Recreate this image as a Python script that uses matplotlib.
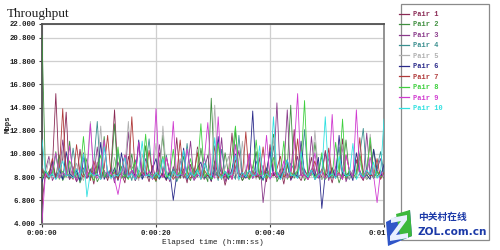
import numpy as np
import matplotlib
matplotlib.use("Agg")
import matplotlib.pyplot as plt
from matplotlib.patches import Rectangle, Polygon
from matplotlib.ticker import FixedLocator, FixedFormatter

# ---------------- data ----------------
series_names = ["Pair 1", "Pair 2", "Pair 3", "Pair 4", "Pair 5",
                "Pair 6", "Pair 7", "Pair 8", "Pair 9", "Pair 10"]
series_colors = ["#8a2a55", "#3f8f3f", "#8a3a8a", "#3a8f8f", "#b0b0b0",
                 "#2a2a8a", "#b03a3a", "#3fd03f", "#d03ad0", "#30e0e0"]

pair1 = [6.5, 9.2, 8.7, 9.6, 16.0, 8.9, 10.4, 14.4, 8.6, 9.3, 8.4, 11.2, 9.0, 8.7, 9.5, 8.2, 10.1, 8.8, 9.4, 8.5,
         9.7, 14.6, 8.9, 9.1, 8.3, 10.6, 9.2, 8.7, 11.8, 8.9, 9.3, 8.4, 9.8, 8.6, 10.9, 9.1, 8.5, 9.4, 8.8, 12.2,
         8.7, 9.5, 8.3, 9.9, 8.8, 11.4, 9.0, 8.6, 9.3, 8.4, 10.2, 8.9, 9.6, 8.1, 9.2, 12.6, 8.8, 9.4, 8.5, 9.0,
         10.8, 8.7, 9.3, 8.6, 9.8, 8.4, 11.6, 9.1, 8.7, 9.5, 8.2, 9.9, 8.8, 12.9, 9.0, 8.5, 9.4, 8.9, 10.5, 8.6,
         9.2, 8.8, 11.1, 9.4, 8.3, 9.7, 8.9, 12.1, 8.6, 9.3, 8.8, 10.3, 9.0, 8.5, 9.6, 11.7, 8.7, 9.2, 8.9, 9.1]
pair2 = [21.0, 9.0, 8.6, 9.4, 8.8, 10.7, 8.5, 9.2, 11.9, 8.7, 9.5, 8.3, 9.1, 10.4, 8.8, 9.6, 8.4, 9.0, 12.3, 8.9,
         9.3, 13.4, 8.6, 9.7, 8.8, 9.2, 10.8, 8.5, 9.4, 8.9, 11.5, 8.7, 9.1, 8.4, 9.8, 12.4, 8.6, 9.3, 8.9, 9.5,
         8.7, 10.6, 9.0, 8.5, 9.6, 8.8, 11.3, 9.2, 8.4, 15.6, 8.9, 9.4, 8.6, 10.9, 9.0, 8.7, 12.8, 9.3, 8.5, 9.1,
         8.8, 9.7, 11.0, 8.6, 9.2, 8.9, 9.5, 12.5, 8.4, 9.0, 8.8, 9.6, 15.0, 8.7, 9.3, 10.2, 8.5, 9.1, 8.9, 11.8,
         9.4, 8.6, 9.0, 10.5, 8.8, 9.5, 8.3, 9.2, 12.0, 8.9, 9.1, 8.7, 10.8, 9.3, 8.6, 9.0, 11.2, 8.8, 9.4, 8.7]
pair3 = [8.9, 9.4, 10.6, 8.5, 9.1, 8.8, 12.0, 9.3, 8.6, 9.7, 8.4, 9.0, 10.9, 8.7, 9.5, 8.9, 11.4, 8.6, 9.2, 8.8,
         9.6, 8.3, 10.1, 9.0, 8.7, 12.7, 9.3, 8.5, 9.1, 8.9, 10.4, 9.4, 8.6, 9.0, 11.6, 8.8, 9.3, 8.4, 9.7, 8.9,
         10.3, 8.7, 9.2, 11.9, 8.5, 9.0, 8.8, 9.5, 10.7, 8.6, 9.1, 8.9, 12.2, 8.4, 9.3, 8.7, 9.6, 11.1, 8.8, 9.0,
         8.6, 9.4, 8.9, 10.5, 6.6, 9.2, 8.7, 9.0, 15.2, 8.8, 9.3, 14.6, 8.5, 9.1, 10.6, 8.9, 9.5, 8.6, 12.3, 9.0,
         8.7, 9.3, 10.9, 8.5, 9.6, 8.8, 9.1, 11.5, 8.4, 9.2, 8.9, 10.2, 9.4, 8.6, 12.6, 9.0, 8.8, 9.5, 10.4, 8.9]
pair4 = [9.8, 8.7, 9.3, 8.9, 10.8, 9.1, 8.6, 9.4, 8.8, 11.3, 9.0, 8.5, 9.6, 8.9, 9.2, 10.1, 13.6, 8.7, 9.3, 8.8,
         9.5, 8.6, 11.0, 9.2, 8.9, 9.4, 8.5, 10.3, 9.1, 8.7, 9.6, 12.1, 8.8, 9.0, 8.6, 9.3, 10.7, 8.9, 9.5, 8.4,
         9.1, 8.8, 11.7, 9.0, 8.6, 9.4, 8.9, 10.5, 9.2, 8.7, 9.6, 8.5, 11.2, 9.0, 8.8, 9.3, 8.6, 12.4, 9.1, 8.9,
         9.4, 8.7, 10.2, 9.0, 8.5, 9.6, 8.8, 11.5, 9.2, 8.6, 9.3, 8.9, 10.0, 9.4, 8.7, 9.1, 12.9, 8.8, 9.5, 8.6,
         9.0, 10.6, 8.9, 9.3, 8.7, 9.5, 11.4, 8.8, 9.1, 8.6, 9.4, 9.0, 10.8, 13.0, 8.9, 9.2, 8.7, 9.6, 11.0, 9.1]
pair5 = [9.1, 8.8, 10.3, 9.4, 8.6, 9.0, 11.1, 8.9, 9.5, 8.7, 10.0, 9.2, 8.5, 9.6, 13.6, 8.8, 9.3, 13.2, 8.9, 9.4,
         8.6, 10.5, 9.1, 8.8, 9.7, 13.6, 8.9, 9.2, 8.5, 10.8, 9.3, 8.7, 9.0, 11.7, 8.8, 13.2, 9.4, 8.6, 9.1, 8.9,
         10.4, 9.2, 8.7, 9.5, 8.9, 11.2, 9.0, 8.6, 9.3, 8.8, 15.0, 9.1, 8.7, 9.6, 10.6, 8.9, 9.2, 8.5, 11.9, 9.0,
         8.8, 9.4, 8.6, 10.9, 9.1, 8.7, 9.5, 12.2, 8.9, 9.2, 8.6, 10.3, 9.0, 8.8, 9.4, 11.3, 8.7, 9.1, 8.9, 12.8,
         9.3, 8.6, 9.0, 10.7, 8.8, 9.5, 8.9, 11.6, 9.2, 8.7, 9.4, 8.9, 10.1, 9.0, 8.6, 12.5, 9.3, 8.8, 9.1, 8.9]
pair6 = [8.4, 9.3, 8.9, 10.2, 8.7, 9.5, 8.6, 11.0, 9.1, 8.8, 9.4, 8.5, 10.6, 9.0, 8.7, 9.2, 8.9, 11.8, 8.6, 9.3,
         8.8, 9.6, 8.5, 10.9, 9.0, 8.7, 9.4, 8.9, 12.0, 8.6, 9.2, 8.8, 9.5, 10.4, 8.7, 9.1, 8.6, 9.3, 6.8, 9.0,
         8.9, 11.3, 8.6, 9.2, 8.8, 9.6, 10.1, 8.7, 9.0, 8.5, 9.4, 12.3, 8.9, 9.1, 8.6, 9.5, 10.8, 8.8, 9.2, 8.7,
         9.3, 14.5, 8.8, 9.0, 8.6, 9.4, 11.0, 8.9, 9.2, 8.7, 9.5, 10.3, 8.6, 9.1, 8.8, 11.9, 9.0, 8.7, 9.4, 8.9,
         10.5, 6.1, 9.1, 8.8, 9.6, 8.7, 12.4, 9.0, 8.9, 9.3, 8.5, 10.9, 9.2, 8.8, 9.0, 8.6, 11.2, 9.4, 8.7, 9.9]
pair7 = [9.5, 8.8, 9.1, 10.4, 8.7, 9.3, 14.7, 8.9, 9.0, 8.6, 11.6, 9.2, 8.8, 9.4, 8.5, 10.2, 9.0, 8.7, 9.6, 12.4,
         8.9, 9.2, 8.6, 9.5, 10.7, 8.8, 14.0, 9.1, 8.7, 9.3, 8.9, 11.1, 9.0, 8.5, 9.4, 8.8, 10.5, 9.2, 8.6, 9.0,
         12.0, 8.8, 9.3, 8.7, 9.1, 10.9, 8.6, 9.4, 8.9, 9.0, 11.5, 8.7, 9.2, 8.8, 9.5, 8.6, 10.3, 9.1, 8.9, 12.7,
         8.7, 9.3, 8.8, 9.0, 11.4, 8.6, 9.2, 8.9, 9.5, 10.6, 8.8, 9.1, 8.7, 9.4, 12.1, 8.9, 9.0, 8.6, 9.3, 10.2,
         8.8, 9.5, 8.7, 11.3, 9.0, 8.9, 9.2, 8.6, 10.7, 9.4, 8.8, 9.1, 12.2, 8.7, 9.3, 8.9, 9.0, 10.4, 8.6, 9.2]
pair8 = [8.7, 9.4, 8.9, 9.1, 11.0, 8.6, 9.3, 8.8, 10.2, 9.5, 8.7, 9.0, 12.3, 8.9, 9.2, 8.5, 9.6, 10.7, 8.8, 9.1,
         8.9, 9.3, 11.4, 8.7, 9.0, 8.6, 9.5, 10.1, 8.8, 9.2, 12.5, 8.9, 9.1, 8.7, 9.4, 10.6, 8.8, 9.0, 11.2, 8.6,
         9.3, 8.9, 9.1, 10.4, 8.7, 9.5, 13.4, 8.8, 9.2, 8.6, 9.0, 11.7, 8.9, 9.3, 8.7, 10.8, 13.2, 9.0, 8.8, 9.4,
         8.6, 9.1, 12.0, 8.9, 9.3, 8.7, 9.5, 10.5, 8.8, 9.0, 11.9, 8.6, 9.2, 8.9, 9.4, 10.1, 15.4, 8.7, 9.1, 8.8,
         9.3, 10.9, 8.6, 9.0, 8.9, 11.8, 9.2, 13.8, 8.7, 9.4, 8.8, 9.1, 10.6, 8.9, 9.0, 12.2, 8.7, 9.3, 8.8, 9.0]
pair9 = [4.9, 9.1, 8.8, 9.5, 10.9, 8.7, 9.2, 8.9, 11.5, 9.0, 8.6, 9.4, 10.3, 8.8, 13.4, 9.1, 8.7, 9.3, 12.0, 8.9,
         9.2, 8.6, 7.3, 9.0, 10.7, 8.8, 9.4, 8.7, 11.8, 9.1, 8.9, 9.3, 8.6, 14.7, 9.0, 8.8, 10.5, 9.2, 13.6, 8.7,
         9.1, 8.9, 11.2, 9.4, 8.6, 9.0, 8.8, 10.4, 13.5, 9.2, 8.7, 14.0, 9.1, 8.9, 9.5, 8.6, 11.6, 9.0, 8.8, 9.3,
         10.8, 8.7, 9.2, 8.9, 9.0, 12.4, 8.6, 9.3, 8.8, 9.1, 10.2, 8.7, 9.4, 11.3, 16.0, 8.9, 9.0, 8.6, 9.2, 10.9,
         8.8, 9.3, 8.7, 9.0, 14.2, 8.9, 9.1, 8.6, 10.7, 9.4, 8.8, 14.6, 9.0, 8.7, 9.2, 10.5, 8.9, 6.6, 9.3, 8.8]
pair10 = [12.0, 9.3, 8.8, 9.1, 8.6, 9.4, 10.2, 8.9, 9.0, 8.7, 9.5, 8.8, 10.8, 7.1, 9.2, 8.9, 9.1, 8.6, 11.4, 9.3,
          8.7, 9.0, 8.9, 9.4, 10.5, 8.8, 9.1, 8.6, 9.3, 11.9, 8.9, 9.0, 8.7, 9.2, 8.8, 10.4, 9.1, 8.6, 9.3, 8.9,
          9.0, 11.1, 8.7, 9.2, 8.9, 9.4, 8.6, 10.0, 9.1, 8.8, 12.2, 9.0, 8.7, 9.3, 8.9, 9.1, 10.7, 8.6, 9.2, 8.8,
          9.4, 8.9, 9.0, 11.5, 8.7, 9.1, 8.8, 14.0, 9.2, 8.6, 9.3, 10.3, 8.9, 9.0, 8.7, 11.0, 9.1, 8.8, 9.4, 8.6,
          9.0, 9.2, 14.0, 8.8, 9.1, 8.7, 10.6, 9.3, 8.9, 9.0, 11.7, 8.6, 9.2, 8.8, 9.4, 9.0, 10.1, 8.7, 9.1, 13.8]

series_values = [pair1, pair2, pair3, pair4, pair5, pair6, pair7, pair8, pair9, pair10]

duration_s = 60
y_ticks = [4.8, 6.8, 8.8, 10.8, 12.8, 14.8, 16.8, 18.8, 20.8, 22.0]
y_tick_labels = ["4.000", "6.800", "8.800", "10.800", "12.800", "14.800",
                 "16.800", "18.800", "20.800", "22.000"]
x_ticks = [0, 20, 40, 60]
x_tick_labels = ["0:00:00", "0:00:20", "0:00:40", "0:01:00"]

# ---------------- figure ----------------
W, H = 500, 250
fig = plt.figure(figsize=(5, 2.5), dpi=100)
fig.patch.set_facecolor("white")

def fx(px):
    return px / W

def fy(py):
    return 1 - py / H

ax_l, ax_r, ax_t, ax_b = 42, 384, 24, 223.5
ax = fig.add_axes([fx(ax_l), fy(ax_b), fx(ax_r - ax_l), (ax_b - ax_t) / H])

mono = "Liberation Mono"
lines = []
for name, col, vals in zip(series_names, series_colors, series_values):
    t = np.linspace(0, duration_s, len(vals))
    ln, = ax.plot(t, vals, color=col, lw=0.6, label=name, zorder=3)
    lines.append(ln)

ax.set_xlim(0, duration_s)
ax.set_ylim(y_ticks[0], y_ticks[-1])
ax.yaxis.set_major_locator(FixedLocator(y_ticks))
ax.yaxis.set_major_formatter(FixedFormatter(y_tick_labels))
ax.xaxis.set_major_locator(FixedLocator(x_ticks))
ax.xaxis.set_major_formatter(FixedFormatter(x_tick_labels))
ax.grid(True, color="#cfcfcf", lw=0.9, zorder=0)
ax.set_axisbelow(True)
ax.tick_params(axis="both", length=2.5, width=0.8, color="#404040",
               labelsize=5.3, pad=2, labelcolor="#202020")
for lab in ax.get_xticklabels() + ax.get_yticklabels():
    lab.set_fontfamily(mono)
    lab.set_fontweight("bold")

for side in ["top", "left"]:
    ax.spines[side].set_color("#505050")
    ax.spines[side].set_linewidth(1.3)
for side in ["bottom", "right"]:
    ax.spines[side].set_color("#8a8a8a")
    ax.spines[side].set_linewidth(1.3)

# title and axis labels
fig.text(fx(7), fy(17), "Throughput", family="Liberation Serif", fontsize=9.5,
         color="#202020", ha="left", va="baseline")
fig.text(fx(8), fy(124), "Mbps", family=mono, fontsize=5.3, fontweight="bold",
         rotation=90, ha="center", va="center", color="#202020")
fig.text(fx((ax_l + ax_r) / 2), fy(242), "Elapsed time (h:mm:ss)", family=mono,
         fontsize=5.6, ha="center", va="center", color="#202020")

# legend box
fig.patches.append(Rectangle((fx(401), fy(240)), fx(88), 236 / H, transform=fig.transFigure,
                             facecolor="white", edgecolor="#8a8a8a", lw=0.9, zorder=1))
leg = fig.legend(handles=lines, loc="upper left", bbox_to_anchor=(fx(399), fy(11)),
                 frameon=False, prop={"family": mono, "size": 5.0, "weight": "bold"},
                 handlelength=1.45, handletextpad=0.55, labelspacing=0.5,
                 borderaxespad=0, borderpad=0, labelcolor="linecolor")
for h in leg.legend_handles:
    h.set_linewidth(0.9)

# watermark logo (ZOL)
logo_z = 5
fig.patches.append(Polygon([[fx(386), fy(222)], [fx(410), fy(210)], [fx(412), fy(236)], [fx(388), fy(246)]],
                           closed=True, transform=fig.transFigure, facecolor="#2f55c8",
                           edgecolor="none", zorder=logo_z))
fig.patches.append(Polygon([[fx(396), fy(214)], [fx(410), fy(210)], [fx(412), fy(236)], [fx(401), fy(240)]],
                           closed=True, transform=fig.transFigure, facecolor="#3cb83c",
                           edgecolor="none", zorder=logo_z))
z_shape = [(391, 218), (407, 215), (407, 220), (396, 235), (408, 233), (408, 238),
           (390, 241), (390, 236), (401, 221), (391, 223)]
fig.patches.append(Polygon([[fx(a), fy(b)] for a, b in z_shape], closed=True,
                           transform=fig.transFigure, facecolor="#e8f0ff",
                           edgecolor="none", zorder=logo_z + 1))
fig.text(fx(418), fy(217), "中关村在线", family=["Noto Sans CJK SC", "DejaVu Sans"], fontsize=7,
         fontweight="bold", color="#1c3aa8", ha="left", va="center", zorder=logo_z + 1)
fig.text(fx(417), fy(232), "ZOL.com.cn", family="DejaVu Sans", fontsize=7.6,
         fontweight="bold", color="#1c3aa8", ha="left", va="center", zorder=logo_z + 1)

fig.savefig("out.png", dpi=100, facecolor="white")
